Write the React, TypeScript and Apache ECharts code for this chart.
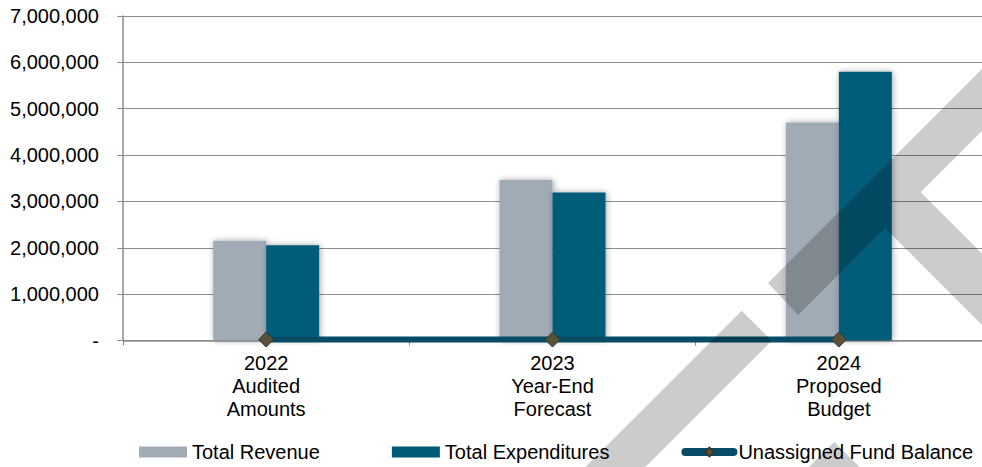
import React, { useEffect, useRef } from "react";
import * as echarts from "echarts";

const categories = ["2022\nAudited\nAmounts", "2023\nYear-End\nForecast", "2024\nProposed\nBudget"];
const seriesNames = ["Total Revenue", "Total Expenditures", "Unassigned Fund Balance"];
const totalRevenue = [2153000, 3460000, 4700000];
const totalExpenditures = [2053000, 3190000, 5800000];
const unassignedFundBalance = [20000, 20000, 20000];
const yMin = 0;
const yMax = 7000000;
const yStep = 1000000;

const FONT = "'Liberation Sans', Arial, sans-serif";
const WM = "rgba(0,0,0,0.2)";
const LINE_COLOR = "#064c66";

export default function App() {
  const ref = useRef<HTMLDivElement>(null);
  useEffect(() => {
    if (!ref.current) return;
    const chart = echarts.init(ref.current, null, { renderer: "svg" });
    const barShadow = { shadowBlur: 6, shadowColor: "rgba(0,0,0,0.35)", shadowOffsetX: 1, shadowOffsetY: 0 };
    chart.setOption({
      animation: false,
      backgroundColor: "#ffffff",
      textStyle: { fontFamily: FONT },
      grid: { left: 123, right: -2, top: 16, bottom: 126.5, containLabel: false },
      legend: {
        left: 139,
        top: 442,
        padding: 0,
        itemWidth: 48,
        itemHeight: 11,
        itemGap: 72,
        textStyle: { fontSize: 20, color: "#000", fontFamily: FONT },
        data: [
          { name: seriesNames[0], icon: "rect" },
          { name: seriesNames[1], icon: "rect" },
          { name: seriesNames[2], lineStyle: { width: 8, cap: "round", color: LINE_COLOR } },
        ],
      },
      xAxis: {
        type: "category",
        data: categories,
        boundaryGap: true,
        axisLine: { show: true, lineStyle: { color: "#8c8c8c", width: 1.5 } },
        axisTick: { show: true, inside: false, length: 5, lineStyle: { color: "#8c8c8c" } },
        axisLabel: { color: "#000", fontSize: 20, lineHeight: 23, margin: 11, fontFamily: FONT },
        splitLine: { show: false },
      },
      yAxis: {
        type: "value",
        min: yMin,
        max: yMax,
        interval: yStep,
        axisLine: { show: true, lineStyle: { color: "#8c8c8c", width: 1.5 } },
        axisTick: { show: true, inside: false, length: 6, lineStyle: { color: "#8c8c8c" } },
        axisLabel: {
          color: "#000",
          fontSize: 20,
          margin: 24,
          fontFamily: FONT,
          formatter: (v: number) => (v === 0 ? "-" : v.toLocaleString("en-US")),
        },
        splitLine: { show: true, lineStyle: { color: "#8c8c8c", width: 1 } },
      },
      series: [
        {
          name: seriesNames[0],
          type: "bar",
          data: totalRevenue,
          barWidth: 53,
          barGap: "0%",
          itemStyle: { color: "#a0abb5", ...barShadow },
        },
        {
          name: seriesNames[1],
          type: "bar",
          data: totalExpenditures,
          barWidth: 53,
          barGap: "0%",
          itemStyle: { color: "#005b78", ...barShadow },
        },
        {
          name: seriesNames[2],
          type: "line",
          data: unassignedFundBalance,
          symbol: "diamond",
          symbolSize: 15,
          showSymbol: true,
          lineStyle: { color: LINE_COLOR, width: 6, cap: "round" },
          itemStyle: { color: "#57523a", borderColor: "#3a3626", borderWidth: 1 },
          z: 5,
        },
      ],
      graphic: [
        {
          type: "polygon",
          silent: true,
          z: 100,
          shape: { points: [[768, 283], [990, 61], [990, 123], [920.7, 192.3], [990, 261.6], [990, 333], [885, 228], [798, 315]] },
          style: { fill: WM },
        },
        {
          type: "polygon",
          silent: true,
          z: 100,
          shape: { points: [[741.7, 310.7], [771.7, 340.7], [640.4, 472], [580.4, 472]] },
          style: { fill: WM },
        },
        {
          type: "polygon",
          silent: true,
          z: 100,
          shape: { points: [[834.3, 441.7], [862, 469.4], [806.6, 469.4]] },
          style: { fill: WM },
        },
      ],
    });
    return () => chart.dispose();
  }, []);
  return (
    <div
      ref={ref}
      style={{ position: "fixed", left: 0, top: 0, width: 982, height: 467, background: "#fff" }}
    />
  );
}
